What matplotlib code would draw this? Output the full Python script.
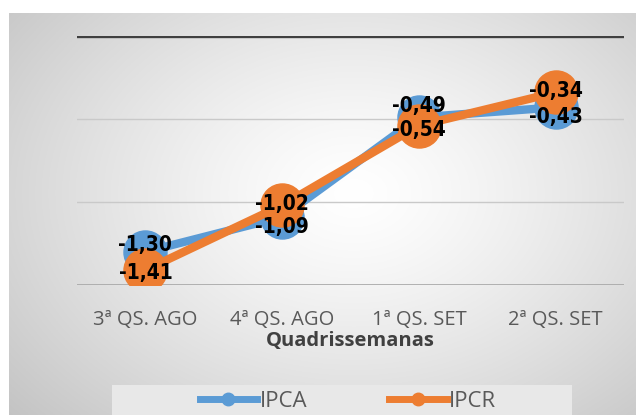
import numpy as np
import matplotlib
matplotlib.use("Agg")
import matplotlib.pyplot as plt
from matplotlib.patches import Rectangle
from matplotlib.lines import Line2D

categorias = ["3ª QS. AGO", "4ª QS. AGO", "1ª QS. SET", "2ª QS. SET"]
ipca = [-1.30, -1.09, -0.49, -0.43]
ipcr = [-1.41, -1.02, -0.54, -0.34]

# desplazamiento de las etiquetas (pt) por punto
off_ipca = [5, -7, 8, -7]
off_ipcr = [-2, 1, -3, 1]

azul = "#5B9BD5"
naranja = "#ED7D31"

W, H = 636, 415
fig = plt.figure(figsize=(W / 100, H / 100), dpi=100)
fig.patch.set_facecolor("white")

# fondo con degradé radial (estilo Excel)
bg = fig.add_axes([9 / W, 0, 1 - 9 / W, (H - 13) / H], zorder=0)
yy, xx = np.mgrid[0:1:300j, 0:1:400j]
r = np.sqrt(((xx - 0.55) / 0.75) ** 2 + ((yy - 0.45) / 0.85) ** 2)
g = 1.0 - 0.24 * np.clip(r, 0, 1) ** 1.3
bg.imshow(np.dstack([g, g, g]), aspect="auto", extent=[0, 1, 0, 1])
bg.axis("off")

ax = fig.add_axes([77 / W, 1 - 285 / H, (624 - 77) / W, (285 - 36) / H], zorder=1)
ax.set_facecolor("none")
x = np.arange(len(categorias))

ax.axhline(-0.5, color="#c9c9c9", lw=1, zorder=1)
ax.axhline(-1.0, color="#c9c9c9", lw=1, zorder=1)
ax.axhline(-1.5, color="#a6a6a6", lw=1.2, zorder=1)
ax.axhline(0, color="#404040", lw=2.4, zorder=1)

ax.plot(x, ipca, color=azul, lw=6, marker="o", ms=31, zorder=3)
ax.plot(x, ipcr, color=naranja, lw=6, marker="o", ms=31, zorder=4)

fnt = dict(family="DejaVu Sans", stretch="condensed", weight="bold", size=15, color="black")
for i in range(len(x)):
    ax.annotate(f"{ipca[i]:.2f}".replace(".", ","), (x[i], ipca[i]), xytext=(0, off_ipca[i]),
                textcoords="offset points", ha="center", va="center", zorder=6, **fnt)
    ax.annotate(f"{ipcr[i]:.2f}".replace(".", ","), (x[i], ipcr[i]), xytext=(0, off_ipcr[i]),
                textcoords="offset points", ha="center", va="center", zorder=6, **fnt)

ax.set_xlim(-0.5, 3.5)
ax.set_ylim(-1.5, 0)
ax.set_yticks([])
ax.set_xticks(x)
ax.set_xticklabels(categorias, family="Open Sans", fontsize=14.5, color="#595959")
ax.tick_params(axis="x", length=0, pad=18)
for s in ax.spines.values():
    s.set_visible(False)
ax.set_xlabel("Quadrissemanas", family="Open Sans", fontsize=14.5, fontweight="bold",
              color="#404040", labelpad=1)

# leyenda
fig.patches.append(Rectangle((112 / W, 0), (572 - 112) / W, 30 / H, transform=fig.transFigure,
                             facecolor="#e8e8e8", edgecolor="none", zorder=1))
handles = [Line2D([], [], color=azul, lw=5, marker="o", ms=9),
           Line2D([], [], color=naranja, lw=5, marker="o", ms=9)]
leg = fig.legend(handles, ["IPCA", "IPCR"], loc="center", bbox_to_anchor=(348 / W, 14 / H),
                 ncol=2, frameon=False, handlelength=2.6, handletextpad=0.1, columnspacing=3.7,
                 prop=dict(family="Open Sans", size=16))
for t in leg.get_texts():
    t.set_color("#595959")

fig.savefig("out.png", dpi=100)
